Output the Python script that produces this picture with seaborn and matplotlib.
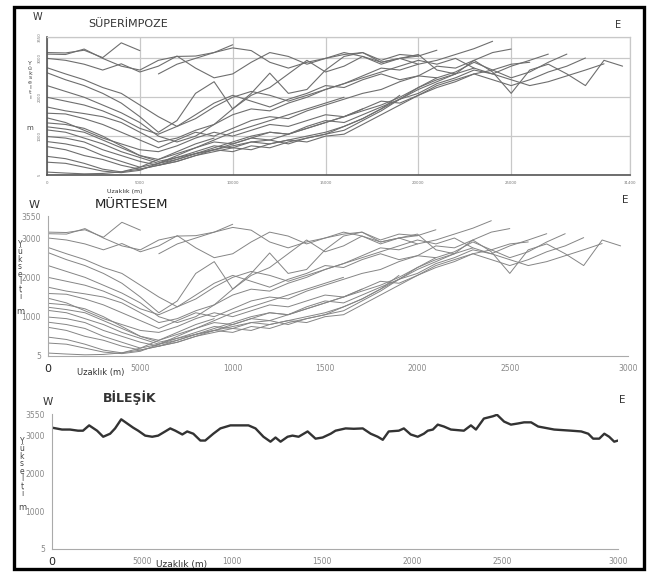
import numpy as np
import pandas as pd
import matplotlib
matplotlib.use("Agg")
import matplotlib.pyplot as plt
import seaborn as sns
from matplotlib.patches import Rectangle

# profil verileri: her 1000 m'de bir yukselti (m)
step_m = 1000
prof_01 = [3150, 3140, 3210, 3020, 3400, 3200]
prof_02 = [3110, 3100, 3240, 3000, 2800, 2700, 2950, 3050, 3060, 3150, 3270, 3200,
           2900, 2750, 2900, 3000, 3150, 3050, 2900, 3000, 2850]
prof_03 = [3000, 2950, 2850, 2700, 2860, 2650, 2800, 3060, 2750, 2500, 2600, 2900,
           3150, 3050, 2850, 3000, 3100, 3150, 2950, 3100, 3060, 3210]
prof_04 = [2760, 2600, 2450, 2250, 2100, 1800, 1500, 1250, 1450, 1750, 2000, 2150,
           2050, 1900, 2050, 2200, 2350, 2550, 2750, 2700, 2850, 2950, 3100, 3250, 3440]
prof_05 = [2630, 2450, 2300, 2100, 1850, 1500, 1100, 1400, 2100, 2400, 1700, 2100,
           2620, 2100, 2200, 2700, 3050, 3150, 2900, 3000, 3100, 2700, 2600, 2950,
           2650, 2100, 2700, 2850, 2600, 2300, 2950, 2800]
prof_06 = [2300, 2150, 2000, 1800, 1600, 1350, 1000, 850, 1000, 1300, 1700, 2050,
           2250, 2600, 2950, 2650, 2800, 3050, 2850, 3000, 3060]
prof_07 = [2000, 1900, 1800, 1650, 1450, 1200, 1050, 1250, 1550, 1850, 2050, 1900,
           1750, 1950, 2100, 2300, 2250, 2450, 2600, 2450, 2550, 2800, 2750, 2950,
           3150, 3240]
prof_08 = [1750, 1650, 1580, 1500, 1350, 1100, 850, 950, 1150, 1300, 1550, 1700,
           1650, 1850, 2000, 2200, 2350, 2500, 2650, 2800, 2950, 2850, 3000, 2750,
           2600, 2800, 2950, 3110]
prof_09 = [1590, 1570, 1450, 1300, 1100, 900, 700, 900, 1100, 1000, 1200, 1400,
           1500, 1450, 1650, 1800, 1950, 2100, 2200, 2400, 2550, 2500, 2650, 2900,
           2700, 2500, 2650, 2900, 3110]
prof_10 = [1470, 1350, 1150, 950, 800, 650, 600, 750, 950, 1100, 1000, 1150, 1300,
           1250, 1400, 1550, 1500, 1700, 1900, 1850, 2050, 2250, 2400, 2600, 2450,
           2300, 2450, 2650, 2800, 3010]
prof_11 = [1340, 1300, 1200, 1000, 750, 500, 400, 550, 700, 850, 800, 950, 1100,
           1050, 1250, 1400, 1350, 1550, 1750, 1950, 2100, 2350, 2500, 2700, 2600,
           2450, 2300, 2400, 2550, 2700, 2860]
prof_12 = [1240, 1180, 1100, 900, 700, 500, 350, 450, 600, 750, 700, 850, 900, 800,
           950, 1050, 1250, 1450, 1700, 2050]
prof_13 = [1160, 1100, 950, 800, 600, 450, 300, 400, 550, 650, 600, 750, 700, 850,
           950, 1050, 1150, 1400, 1650, 1950, 2200, 2400, 2600]
prof_14 = [990, 950, 850, 650, 500, 350, 250, 350, 500, 600, 700, 650, 800, 900,
           850, 1000, 1050, 1300, 1550, 1800, 2050, 2300, 2450, 2600, 2700, 2850, 2900]
prof_15 = [860, 800, 700, 500, 350, 200, 300, 450, 550, 700, 850, 1000, 1100, 1050,
           1200, 1350, 1500, 1650, 1800, 2000, 2250, 2450, 2600, 2750]
prof_16 = [730, 650, 500, 400, 250, 150, 250, 400, 550, 650, 750, 850, 800, 900,
           1000, 1100, 1250, 1450, 1700, 1950, 2250, 2500]
prof_17 = [480, 420, 300, 150, 80, 150, 250, 350, 500, 650, 800, 950, 900, 1050,
           1200, 1350, 1500, 1700]
prof_18 = [330, 300, 200, 100, 60, 120, 300, 500, 700, 900, 1100, 1250, 1400, 1550,
           1700, 1850, 2000]
prof_19 = [75, 50, 30, 40, 80, 200, 400, 600, 800, 950]
prof_20 = [2600, 2850, 3000, 3150, 3350]

profiles = [prof_01, prof_02, prof_03, prof_04, prof_05, prof_06, prof_07, prof_08,
            prof_09, prof_10, prof_11, prof_12, prof_13, prof_14, prof_15, prof_16,
            prof_17, prof_18, prof_19, prof_20]
prof_start = [0] * 19 + [6000]

# bilesik profil
comp_x = [0, 556, 1000, 1445, 1720, 2060, 2500, 2840, 3225, 3500, 3840, 4170, 4500,
          4780, 5170, 5560, 5890, 6280, 6560, 6840, 7230, 7500, 7840, 8230, 8500,
          8950, 9340, 9900, 10450, 10900, 11290, 11730, 12120, 12400, 12680, 13070,
          13340, 13680, 14180, 14620, 15010, 15460, 15730, 16290, 16740, 17240,
          17680, 18070, 18350, 18680, 19240, 19520, 19900, 20290, 20630, 20850,
          21130, 21400, 21740, 22130, 22850, 23240, 23520, 23960, 24460, 24690,
          25080, 25460, 25850, 26190, 26580, 26970, 27860, 28800, 29360, 29750,
          30020, 30360, 30640, 30910, 31190, 31400]
comp_elev = [3200, 3150, 3150, 3120, 3120, 3260, 3120, 2960, 3040, 3180, 3420, 3310,
             3200, 3120, 2990, 2960, 2990, 3100, 3180, 3120, 3020, 3100, 3040, 2860,
             2860, 3040, 3180, 3260, 3260, 3260, 3180, 2960, 2830, 2940, 2830, 2960,
             2990, 2960, 3100, 2910, 2940, 3040, 3120, 3180, 3170, 3180, 3040, 2960,
             2880, 3100, 3120, 3180, 3020, 2960, 3040, 3120, 3150, 3280, 3230, 3150,
             3120, 3260, 3150, 3440, 3500, 3540, 3360, 3280, 3310, 3340, 3340, 3230,
             3150, 3120, 3100, 3040, 2910, 2910, 3040, 2960, 2830, 2860]

x_ticks = [0, 5000, 10000, 15000, 20000, 25000, 31400]
x_labels_top = ["0", "5000", "10000", "15000", "20000", "25000", "31400"]
x_labels = ["0", "5000", "1000", "1500", "2000", "2500", "3000"]
y_ticks = [5, 1000, 2000, 3000, 3550]
y_labels = ["5", "1000", "2000", "3000", "3550"]

rows = []
for i, (st, elev) in enumerate(zip(prof_start, profiles)):
    for j, e in enumerate(elev):
        rows.append({"profil": i, "mesafe": st + j * step_m, "yukselti": e})
prof_df = pd.DataFrame(rows)
comp_df = pd.DataFrame({"mesafe": comp_x, "yukselti": comp_elev})

sns.set_theme(style="white")
plt.rcParams["font.family"] = ["DejaVu Sans"]

W, H = 647, 572
fig = plt.figure(figsize=(W / 100, H / 100), dpi=100)


def fx(px):
    return px / W


def fy(py):
    return 1 - py / H


fig.patches.append(Rectangle((fx(13.5), fy(568.5)), fx(643.5) - fx(13.5), fy(6.5) - fy(568.5),
                             transform=fig.transFigure, fill=False, lw=2.4, ec="black"))

# --- SUPERIMPOZE ---
ax1 = fig.add_axes([fx(47), fy(175), fx(630) - fx(47), fy(37) - fy(175)])
sns.lineplot(data=prof_df, x="mesafe", y="yukselti", units="profil", estimator=None,
             sort=False, color="#6e6e6e", lw=0.8, ax=ax1, legend=False)
ax1.set_xlim(0, 31400)
ax1.set_ylim(0, 3550)
ax1.set_xticks(x_ticks)
ax1.set_xticklabels(x_labels_top, fontsize=2.8, color="#777777")
ax1.set_yticks(y_ticks)
ax1.set_yticklabels(y_labels, fontsize=2.8, color="#777777", rotation=90, va="center")
ax1.grid(True, color="#c8c8c8", lw=0.9)
ax1.tick_params(length=0, pad=4)
for s in ["top", "right"]:
    ax1.spines[s].set_color("#c8c8c8")
    ax1.spines[s].set_linewidth(0.9)
for s in ["left", "bottom"]:
    ax1.spines[s].set_color("#555555")
    ax1.spines[s].set_linewidth(1.2)
ax1.set_xlabel("")
ax1.set_ylabel("")

# --- MURTESEM ---
ax2 = fig.add_axes([fx(48), fy(356), fx(628) - fx(48), fy(216) - fy(356)])
sns.lineplot(data=prof_df, x="mesafe", y="yukselti", units="profil", estimator=None,
             sort=False, color="#858585", lw=0.7, ax=ax2, legend=False)

# --- BILESIK ---
ax3 = fig.add_axes([fx(52), fy(549), fx(618) - fx(52), fy(414) - fy(549)])
sns.lineplot(data=comp_df, x="mesafe", y="yukselti", sort=False, color="#333333",
             lw=1.7, ax=ax3)

for ax in [ax2, ax3]:
    ax.set_xlim(0, 31400)
    ax.set_ylim(0, 3560)
    ax.set_xticks(x_ticks)
    ax.set_xticklabels(x_labels, fontsize=5.5, color="#888888")
    ax.set_yticks(y_ticks)
    ax.set_yticklabels(y_labels, fontsize=5.5, color="#888888")
    ax.get_xticklabels()[0].set_fontsize(8)
    ax.get_xticklabels()[0].set_color("#222222")
    ax.tick_params(axis="x", direction="inout", length=3, width=0.6, color="#999999", pad=4)
    ax.tick_params(axis="y", length=0, pad=5)
    sns.despine(ax=ax)
    for s in ["left", "bottom"]:
        ax.spines[s].set_color("#aaaaaa")
        ax.spines[s].set_linewidth(0.8)
    ax.set_xlabel("")
    ax.set_ylabel("")

# basliklar ve yon harfleri
fig.text(fx(37), fy(17), "W", fontsize=7, color="#333333", ha="center", va="center")
fig.text(fx(88), fy(24), "SÜPERİMPOZE", fontsize=8, color="#333333", ha="left", va="center")
fig.text(fx(618), fy(25), "E", fontsize=7, color="#333333", ha="center", va="center")
fig.text(fx(125), fy(192), "Uzaklık (m)", fontsize=4.5, color="#333333", ha="center", va="center")

fig.text(fx(34), fy(205), "W", fontsize=8, color="#333333", ha="center", va="center")
fig.text(fx(95), fy(205), "MÜRTESEM", fontsize=9.5, color="#222222", ha="left", va="center")
fig.text(fx(625), fy(200), "E", fontsize=7.5, color="#333333", ha="center", va="center")
fig.text(fx(101), fy(373), "Uzaklık (m)", fontsize=6, color="#333333", ha="center", va="center")

fig.text(fx(48), fy(402), "W", fontsize=7.5, color="#333333", ha="center", va="center")
fig.text(fx(103), fy(398), "BİLEŞİK", fontsize=9, fontweight="bold", color="#333333",
         ha="left", va="center")
fig.text(fx(622), fy(400), "E", fontsize=7.5, color="#333333", ha="center", va="center")
fig.text(fx(182), fy(564), "Uzaklık (m)", fontsize=6.5, color="#333333", ha="center", va="center")

# dikey eksen adlari
ylab = "\n".join("Yükselti")
fig.text(fx(30), fy(61), ylab, fontsize=4.5, color="#444444", ha="center", va="top", linespacing=0.95)
fig.text(fx(30), fy(128), "m", fontsize=5, color="#444444", ha="center", va="center")
fig.text(fx(20), fy(240), ylab, fontsize=5.5, color="#444444", ha="center", va="top", linespacing=0.78)
fig.text(fx(20), fy(311), "m", fontsize=6, color="#444444", ha="center", va="center")
fig.text(fx(22), fy(437), ylab, fontsize=5.5, color="#444444", ha="center", va="top", linespacing=0.78)
fig.text(fx(22), fy(508), "m", fontsize=6, color="#444444", ha="center", va="center")

fig.savefig("out.png", dpi=100, facecolor="white")
